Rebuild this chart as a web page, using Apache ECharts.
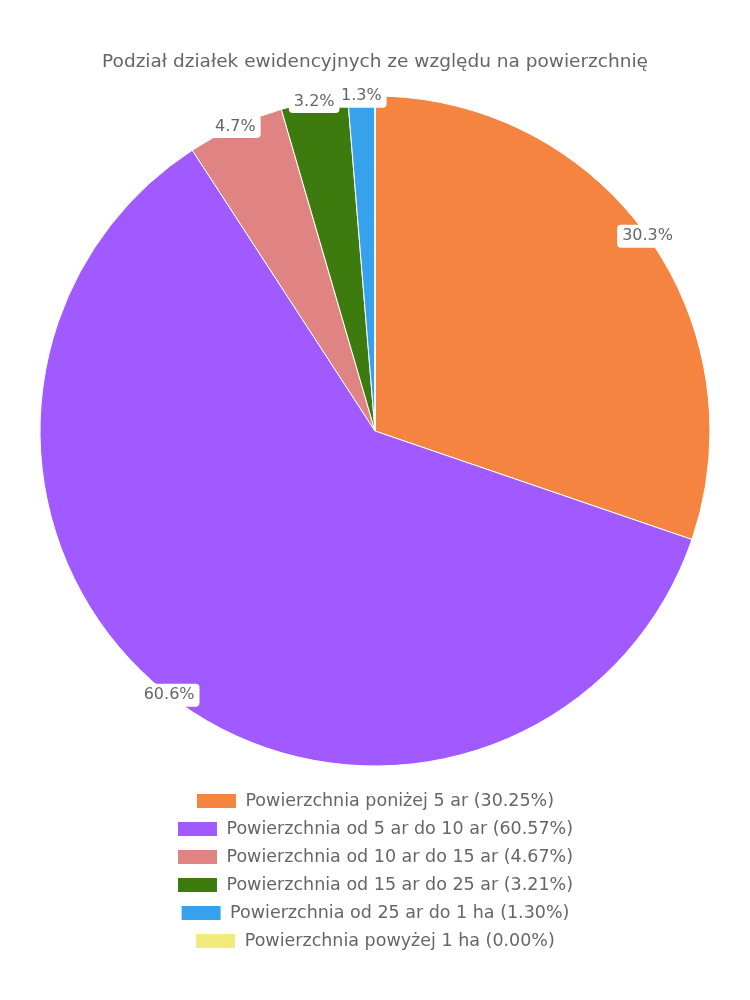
<!DOCTYPE html>
<html>
<head>
<meta charset="utf-8">
<script src="https://cdn.jsdelivr.net/npm/echarts@6/dist/echarts.min.js"></script>
<style>
  html, body { margin: 0; padding: 0; background: #fff; }
  #chart { width: 750px; height: 1000px; }
</style>
</head>
<body>
<div id="chart"></div>
<script>
const titleText = 'Podział działek ewidencyjnych ze względu na powierzchnię';
const categories = [
  'Powierzchnia poniżej 5 ar',
  'Powierzchnia od 5 ar do 10 ar',
  'Powierzchnia od 10 ar do 15 ar',
  'Powierzchnia od 15 ar do 25 ar',
  'Powierzchnia od 25 ar do 1 ha',
  'Powierzchnia powyżej 1 ha'
];
const values = [30.25, 60.57, 4.67, 3.21, 1.30, 0.00];
const colors = ['#F4843F', '#A05AFF', '#E08383', '#3E7B0E', '#37A2EB', '#F0EB7C'];

const FONT = 'DejaVu Sans';
const total = values.reduce((a, b) => a + b, 0);
const legendNames = categories.map((c, i) => c + ' (' + values[i].toFixed(2) + '%)');

const pieData = legendNames.map((n, i) => ({
  name: n,
  value: values[i],
  itemStyle: { color: colors[i] }
}));

// Label anchors: slice mid-angle (in % of total) on the pie's outer edge (polar radius 1)
let cum = 0;
const labelPoints = [];
values.forEach((v, i) => {
  const mid = cum + v / 2;
  cum += v;
  if (v > 0) labelPoints.push({ value: [1, mid / total * 100], pct: v / total * 100 });
});

const legends = legendNames.map((n, i) => ({
  data: [n],
  left: 'center',
  top: 787 + i * 28,
  itemWidth: 40,
  itemHeight: 15,
  itemGap: 10,
  selectedMode: false,
  icon: 'rect',
  itemStyle: { borderColor: '#fff', borderWidth: 1 },
  textStyle: { fontFamily: FONT, fontSize: 17.5, color: '#666', padding: [0, 0, 0, 4] }
}));

const chart = echarts.init(document.getElementById('chart'), null, { renderer: 'canvas' });
chart.setOption({
  animation: false,
  backgroundColor: '#fff',
  title: {
    text: titleText,
    left: 'center',
    top: 48,
    textStyle: { fontFamily: FONT, fontSize: 18.5, fontWeight: 'normal', color: '#666' }
  },
  legend: legends,
  polar: { center: [375, 431], radius: 335 },
  angleAxis: { type: 'value', min: 0, max: 100, startAngle: 90, clockwise: true, show: false },
  radiusAxis: { type: 'value', min: 0, max: 1, show: false },
  series: [
    {
      type: 'pie',
      name: 'main',
      center: [375, 431],
      radius: [0, 335],
      startAngle: 90,
      clockwise: true,
      silent: true,
      label: { show: false },
      labelLine: { show: false },
      itemStyle: { borderColor: '#fff', borderWidth: 1 },
      data: pieData
    },
    {
      type: 'scatter',
      coordinateSystem: 'polar',
      silent: true,
      symbolSize: 1,
      itemStyle: { color: 'rgba(0,0,0,0)', opacity: 1 },
      z: 10,
      label: {
        show: true,
        position: 'inside',
        opacity: 1,
        formatter: p => p.data.pct.toFixed(1) + '%',
        fontFamily: FONT,
        fontSize: 16,
        color: '#666',
        backgroundColor: '#fff',
        borderRadius: 4,
        padding: [4, 5, 3, 5]
      },
      data: labelPoints
    }
  ]
});
</script>
</body>
</html>
